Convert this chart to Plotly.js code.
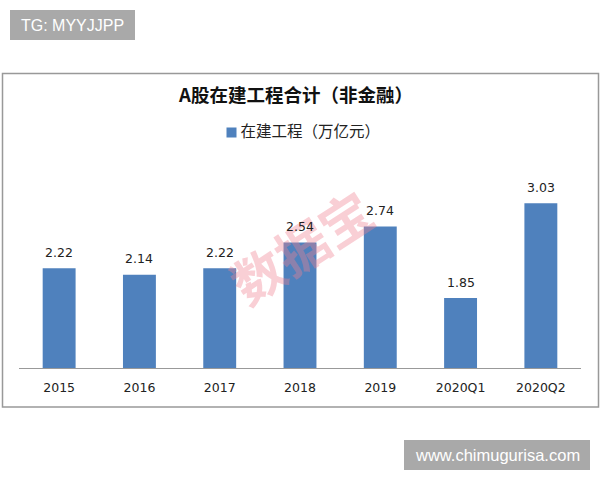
<!DOCTYPE html>
<html><head><meta charset="utf-8">
<script src="https://cdn.plot.ly/plotly-3.0.1.min.js"></script>
<style>html,body{margin:0;padding:0;background:#fff}</style></head>
<body><div id="c" style="width:600px;height:480px"></div>
<script>
const categories = ["2015","2016","2017","2018","2019","2020Q1","2020Q2"];
const values = [2.22,2.14,2.22,2.54,2.74,1.85,3.03];
const seriesName = "在建工程（万亿元）";
const chartTitle = "A股在建工程合计（非金融）";
const W=600,H=480;
const px=v=>v/W, py=v=>1-v/H;
const cjk='"Noto Sans CJK SC", sans-serif';
const valueLabels = categories.map((c,i)=>({
  text:values[i].toFixed(2),x:i,y:values[i],xref:'x',yref:'y',showarrow:false,
  xanchor:'center',yanchor:'middle',yshift:16,
  font:{family:'DejaVu Sans',size:12.5,color:'#222'}
}));
Plotly.newPlot('c',[{
  type:'bar',x:categories,y:values,name:seriesName,
  marker:{color:'#4f81bd',line:{width:0}},
  cliponaxis:false,showlegend:true
}],{
  width:W,height:H,margin:{l:0,r:0,t:0,b:0,autoexpand:false},
  paper_bgcolor:'#fff',plot_bgcolor:'rgba(0,0,0,0)',
  bargap:0.59,
  title:{text:chartTitle,font:{family:cjk,size:18.5,color:'#111',weight:'bold'},x:px(296),xanchor:'center',y:py(96),yanchor:'middle'},
  xaxis:{domain:[px(19),px(581)],type:'category',categoryorder:'array',categoryarray:categories,range:[-0.5,6.5],autorange:false,showline:true,linecolor:'#999',linewidth:1,ticks:'',showgrid:false,
    tickfont:{family:'DejaVu Sans',size:12.5,color:'#222'},ticklabelstandoff:8,automargin:false,fixedrange:true},
  yaxis:{domain:[py(368),py(167)],range:[0.98,3.48],visible:false,showgrid:false,zeroline:false,automargin:false,fixedrange:true},
  legend:{orientation:'h',x:px(293),xanchor:'center',y:py(131),yanchor:'middle',font:{family:cjk,size:15.5,color:'#222'},itemwidth:30,bgcolor:'rgba(0,0,0,0)'},
  shapes:[
    {type:'rect',xref:'paper',yref:'paper',x0:px(2.5),x1:px(598.5),y0:py(73.5),y1:py(407),line:{color:'#999',width:1.5},fillcolor:'rgba(0,0,0,0)',layer:'below'},
    {type:'rect',xref:'paper',yref:'paper',x0:px(10),x1:px(135),y0:py(10),y1:py(40),line:{width:0},fillcolor:'#a9a9a9',layer:'below'},
    {type:'rect',xref:'paper',yref:'paper',x0:px(404),x1:px(590),y0:py(440),y1:py(470),line:{width:0},fillcolor:'#a9a9a9',layer:'below'}
  ],
  annotations:[
    {text:'TG: MYYJJPP',xref:'paper',yref:'paper',x:px(72.5),y:py(25),showarrow:false,xanchor:'center',yanchor:'middle',font:{family:'Liberation Sans',size:16,color:'#fff'}},
    {text:'www.chimugurisa.com',xref:'paper',yref:'paper',x:px(497),y:py(455),showarrow:false,xanchor:'center',yanchor:'middle',font:{family:'Liberation Sans',size:16.5,color:'#fff'}},
    {text:'<b>数据宝</b>',xref:'paper',yref:'paper',x:px(301),y:py(246),showarrow:false,xanchor:'center',yanchor:'middle',textangle:-33,font:{family:cjk,size:52,color:'rgba(238,130,145,0.38)'}}
  ].concat(valueLabels)
},{displayModeBar:false,staticPlot:true}).then(()=>{
  const sym=document.querySelector('.legend .legendsymbols');
  if(sym){sym.setAttribute('transform','translate(11,2)');}
  const p=document.querySelector('.legend .legendpoints path');
  if(p){p.setAttribute('d','M5,5H-5V-5H5Z');}
});
</script></body></html>
